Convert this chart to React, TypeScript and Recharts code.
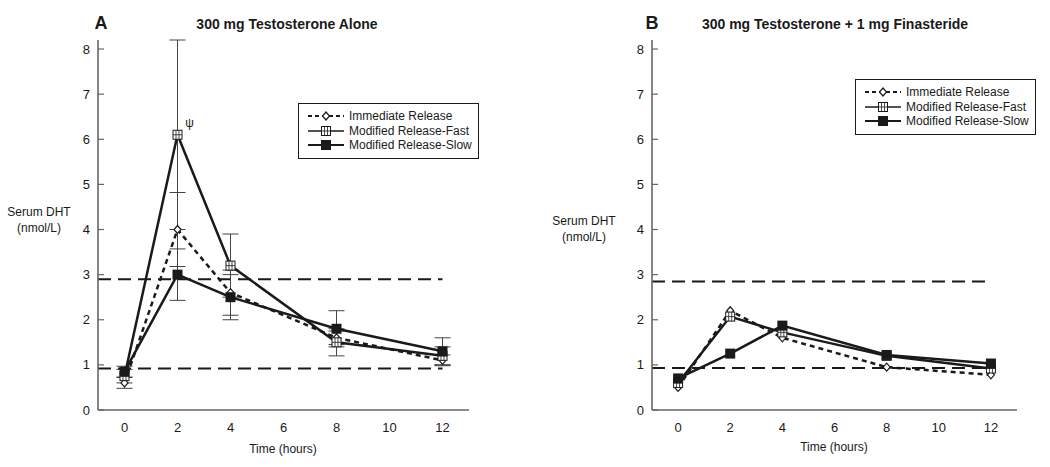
import React from 'react';
import {
  ErrorBar,
  Legend,
  Line,
  LineChart,
  ReferenceDot,
  ReferenceLine,
  XAxis,
  YAxis,
} from 'recharts';

const times = [0, 2, 4, 8, 12];
const xTicks = [0, 2, 4, 6, 8, 10, 12];
const yTicks = [0, 1, 2, 3, 4, 5, 6, 7, 8];

// Panel A: testosterone alone
const aImmediate = [0.6, 4.0, 2.6, 1.6, 1.1];
const aImmediateErr = [0.12, 0.82, 0.5, 0.15, 0.12];
const aFast = [0.75, 6.1, 3.2, 1.5, 1.2];
const aFastErr = [0.15, 2.1, 0.7, 0.3, 0.2];
const aSlow = [0.85, 3.0, 2.5, 1.8, 1.3];
const aSlowErr = [0.12, 0.57, 0.5, 0.4, 0.3];
const aBounds = [0.92, 2.9];

// Panel B: testosterone + finasteride
const bImmediate = [0.5, 2.2, 1.6, 0.95, 0.78];
const bFast = [0.6, 2.07, 1.72, 1.2, 0.92];
const bSlow = [0.7, 1.25, 1.87, 1.22, 1.03];
const bBounds = [0.93, 2.85];

const seriesNames = ['Immediate Release', 'Modified Release-Fast', 'Modified Release-Slow'];

const FONT = '"Liberation Sans", Arial, Helvetica, sans-serif';
const INK = '#1a1a1a';
const AXIS = '#666';

const buildRows = (ir: number[], fast: number[], slow: number[], irErr?: number[], fastErr?: number[], slowErr?: number[]) =>
  times.map((t, i) => ({
    time: t,
    ir: ir[i],
    fast: fast[i],
    slow: slow[i],
    irErr: irErr ? irErr[i] : 0,
    fastErr: fastErr ? fastErr[i] : 0,
    slowErr: slowErr ? slowErr[i] : 0,
  }));

const DiamondDot = (props: any) => {
  const { cx, cy, index } = props;
  if (cx == null || cy == null) return null;
  return (
    <path
      key={`d-${index}`}
      d={`M${cx},${cy - 4} L${cx + 3.5},${cy} L${cx},${cy + 4} L${cx - 3.5},${cy} Z`}
      fill="#fff"
      stroke={INK}
      strokeWidth={1.2}
    />
  );
};

const CrossSquareDot = (props: any) => {
  const { cx, cy, index } = props;
  if (cx == null || cy == null) return null;
  return (
    <g key={`c-${index}`}>
      <rect x={cx - 4.5} y={cy - 4.5} width={9} height={9} fill="#fff" stroke={INK} strokeWidth={1} />
      <line x1={cx - 1.5} y1={cy - 4.5} x2={cx - 1.5} y2={cy + 4.5} stroke={INK} strokeWidth={0.8} />
      <line x1={cx + 1.5} y1={cy - 4.5} x2={cx + 1.5} y2={cy + 4.5} stroke={INK} strokeWidth={0.8} />
      <line x1={cx - 4.5} y1={cy} x2={cx + 4.5} y2={cy} stroke={INK} strokeWidth={0.8} />
    </g>
  );
};

const FilledSquareDot = (props: any) => {
  const { cx, cy, index } = props;
  if (cx == null || cy == null) return null;
  return <rect key={`s-${index}`} x={cx - 5} y={cy - 5} width={10} height={10} fill={INK} />;
};

const LegendBox = () => (
  <div
    style={{
      border: `1.5px solid ${INK}`,
      background: '#fff',
      padding: '5px 6px 5px 8px',
      fontFamily: FONT,
      fontSize: 12,
      color: INK,
      lineHeight: '14.5px',
    }}
  >
    {seriesNames.map((name, i) => (
      <div key={name} style={{ display: 'flex', alignItems: 'center', whiteSpace: 'nowrap' }}>
        <svg width={38} height={12} style={{ marginRight: 4 }}>
          <line
            x1={1}
            y1={6}
            x2={37}
            y2={6}
            stroke={INK}
            strokeWidth={i === 1 ? 1.3 : 2}
            strokeDasharray={i === 0 ? '4 3' : undefined}
          />
          {i === 0 && <DiamondDot cx={19} cy={6} index={0} />}
          {i === 1 && <CrossSquareDot cx={19} cy={6} index={0} />}
          {i === 2 && <FilledSquareDot cx={19} cy={6} index={0} />}
        </svg>
        <span>{name}</span>
      </div>
    ))}
  </div>
);

type PanelProps = {
  rows: ReturnType<typeof buildRows>;
  bounds: number[];
  withErrors: boolean;
  width: number;
  marginLeft: number;
  marginRight: number;
  legendLeft: number;
  legendTop: number;
  psi?: boolean;
};

const Panel = ({ rows, bounds, withErrors, width, marginLeft, marginRight, legendLeft, legendTop, psi }: PanelProps) => (
  <LineChart
    width={width}
    height={467}
    data={rows}
    margin={{ top: 40, right: marginRight, left: marginLeft, bottom: 27 }}
    style={{ fontFamily: FONT }}
  >
    <XAxis
      dataKey="time"
      type="number"
      domain={[-1, 13]}
      ticks={xTicks}
      tickLine={false}
      tickMargin={7}
      height={30}
      axisLine={{ stroke: AXIS, strokeWidth: 1.6 }}
      tick={{ fontSize: 13, fill: INK }}
      allowDataOverflow
    />
    <YAxis
      type="number"
      domain={[0, 8.2]}
      ticks={yTicks}
      width={40}
      tickSize={-6}
      tickMargin={14}
      axisLine={{ stroke: AXIS, strokeWidth: 1.6 }}
      tickLine={{ stroke: AXIS, strokeWidth: 1.2 }}
      tick={{ fontSize: 13, fill: INK }}
      allowDataOverflow
    />
    {bounds.map((b) => (
      <ReferenceLine
        key={b}
        segment={[
          { x: -1, y: b },
          { x: 12, y: b },
        ]}
        stroke={INK}
        strokeWidth={2}
        strokeDasharray="13 7"
        ifOverflow="visible"
      />
    ))}
    <Line
      dataKey="ir"
      name={seriesNames[0]}
      stroke={INK}
      strokeWidth={2.5}
      strokeDasharray="5 4"
      dot={DiamondDot}
      activeDot={false}
      isAnimationActive={false}
    >
      {withErrors && <ErrorBar dataKey="irErr" direction="y" width={8} stroke="#444" strokeWidth={1} />}
    </Line>
    <Line
      dataKey="fast"
      name={seriesNames[1]}
      stroke={INK}
      strokeWidth={2.5}
      dot={CrossSquareDot}
      activeDot={false}
      isAnimationActive={false}
    >
      {withErrors && <ErrorBar dataKey="fastErr" direction="y" width={8} stroke="#444" strokeWidth={1} />}
    </Line>
    <Line
      dataKey="slow"
      name={seriesNames[2]}
      stroke={INK}
      strokeWidth={2.5}
      dot={FilledSquareDot}
      activeDot={false}
      isAnimationActive={false}
    >
      {withErrors && <ErrorBar dataKey="slowErr" direction="y" width={8} stroke="#444" strokeWidth={1} />}
    </Line>
    {psi && (
      <ReferenceDot
        x={2}
        y={rows[1].fast}
        r={0}
        ifOverflow="visible"
        label={(p: any) => (
          <text x={p.viewBox.x + 12} y={p.viewBox.y - 8} fontSize={12} fill={INK} textAnchor="middle">
            ψ
          </text>
        )}
      />
    )}
    <Legend
      layout="vertical"
      align="center"
      verticalAlign="middle"
      content={() => <LegendBox />}
      wrapperStyle={{ left: legendLeft, top: legendTop, width: 'auto' }}
    />
  </LineChart>
);

const textStyle: React.CSSProperties = {
  position: 'absolute',
  fontFamily: FONT,
  color: INK,
  whiteSpace: 'nowrap',
  transform: 'translate(-50%, -50%)',
};

const YLabel = ({ x, y }: { x: number; y: number }) => (
  <div style={{ ...textStyle, left: x, top: y, fontSize: 12, lineHeight: '16px', textAlign: 'center' }}>
    Serum DHT
    <br />
    (nmol/L)
  </div>
);

export default function App() {
  const rowsA = buildRows(aImmediate, aFast, aSlow, aImmediateErr, aFastErr, aSlowErr);
  const rowsB = buildRows(bImmediate, bFast, bSlow);
  return (
    <div style={{ position: 'absolute', left: 0, top: 0, width: 1050, height: 467, background: '#fff' }}>
      <div style={{ position: 'absolute', left: 0, top: 0 }}>
        <Panel
          rows={rowsA}
          bounds={aBounds}
          withErrors
          width={520}
          marginLeft={58}
          marginRight={51}
          legendLeft={298}
          legendTop={103}
          psi
        />
      </div>
      <div style={{ position: 'absolute', left: 520, top: 0 }}>
        <Panel
          rows={rowsB}
          bounds={bBounds}
          withErrors={false}
          width={530}
          marginLeft={92}
          marginRight={33}
          legendLeft={335}
          legendTop={79}
        />
      </div>

      <div style={{ ...textStyle, left: 101, top: 23, fontSize: 18, fontWeight: 'bold' }}>A</div>
      <div style={{ ...textStyle, left: 287, top: 24, fontSize: 14, fontWeight: 'bold' }}>300 mg Testosterone Alone</div>
      <div style={{ ...textStyle, left: 652, top: 23, fontSize: 18, fontWeight: 'bold' }}>B</div>
      <div style={{ ...textStyle, left: 835, top: 24, fontSize: 14, fontWeight: 'bold' }}>
        300 mg Testosterone + 1 mg Finasteride
      </div>

      <YLabel x={39} y={220} />
      <YLabel x={584} y={229} />

      <div style={{ ...textStyle, left: 283, top: 449, fontSize: 12 }}>Time (hours)</div>
      <div style={{ ...textStyle, left: 834, top: 447, fontSize: 12 }}>Time (hours)</div>
    </div>
  );
}
